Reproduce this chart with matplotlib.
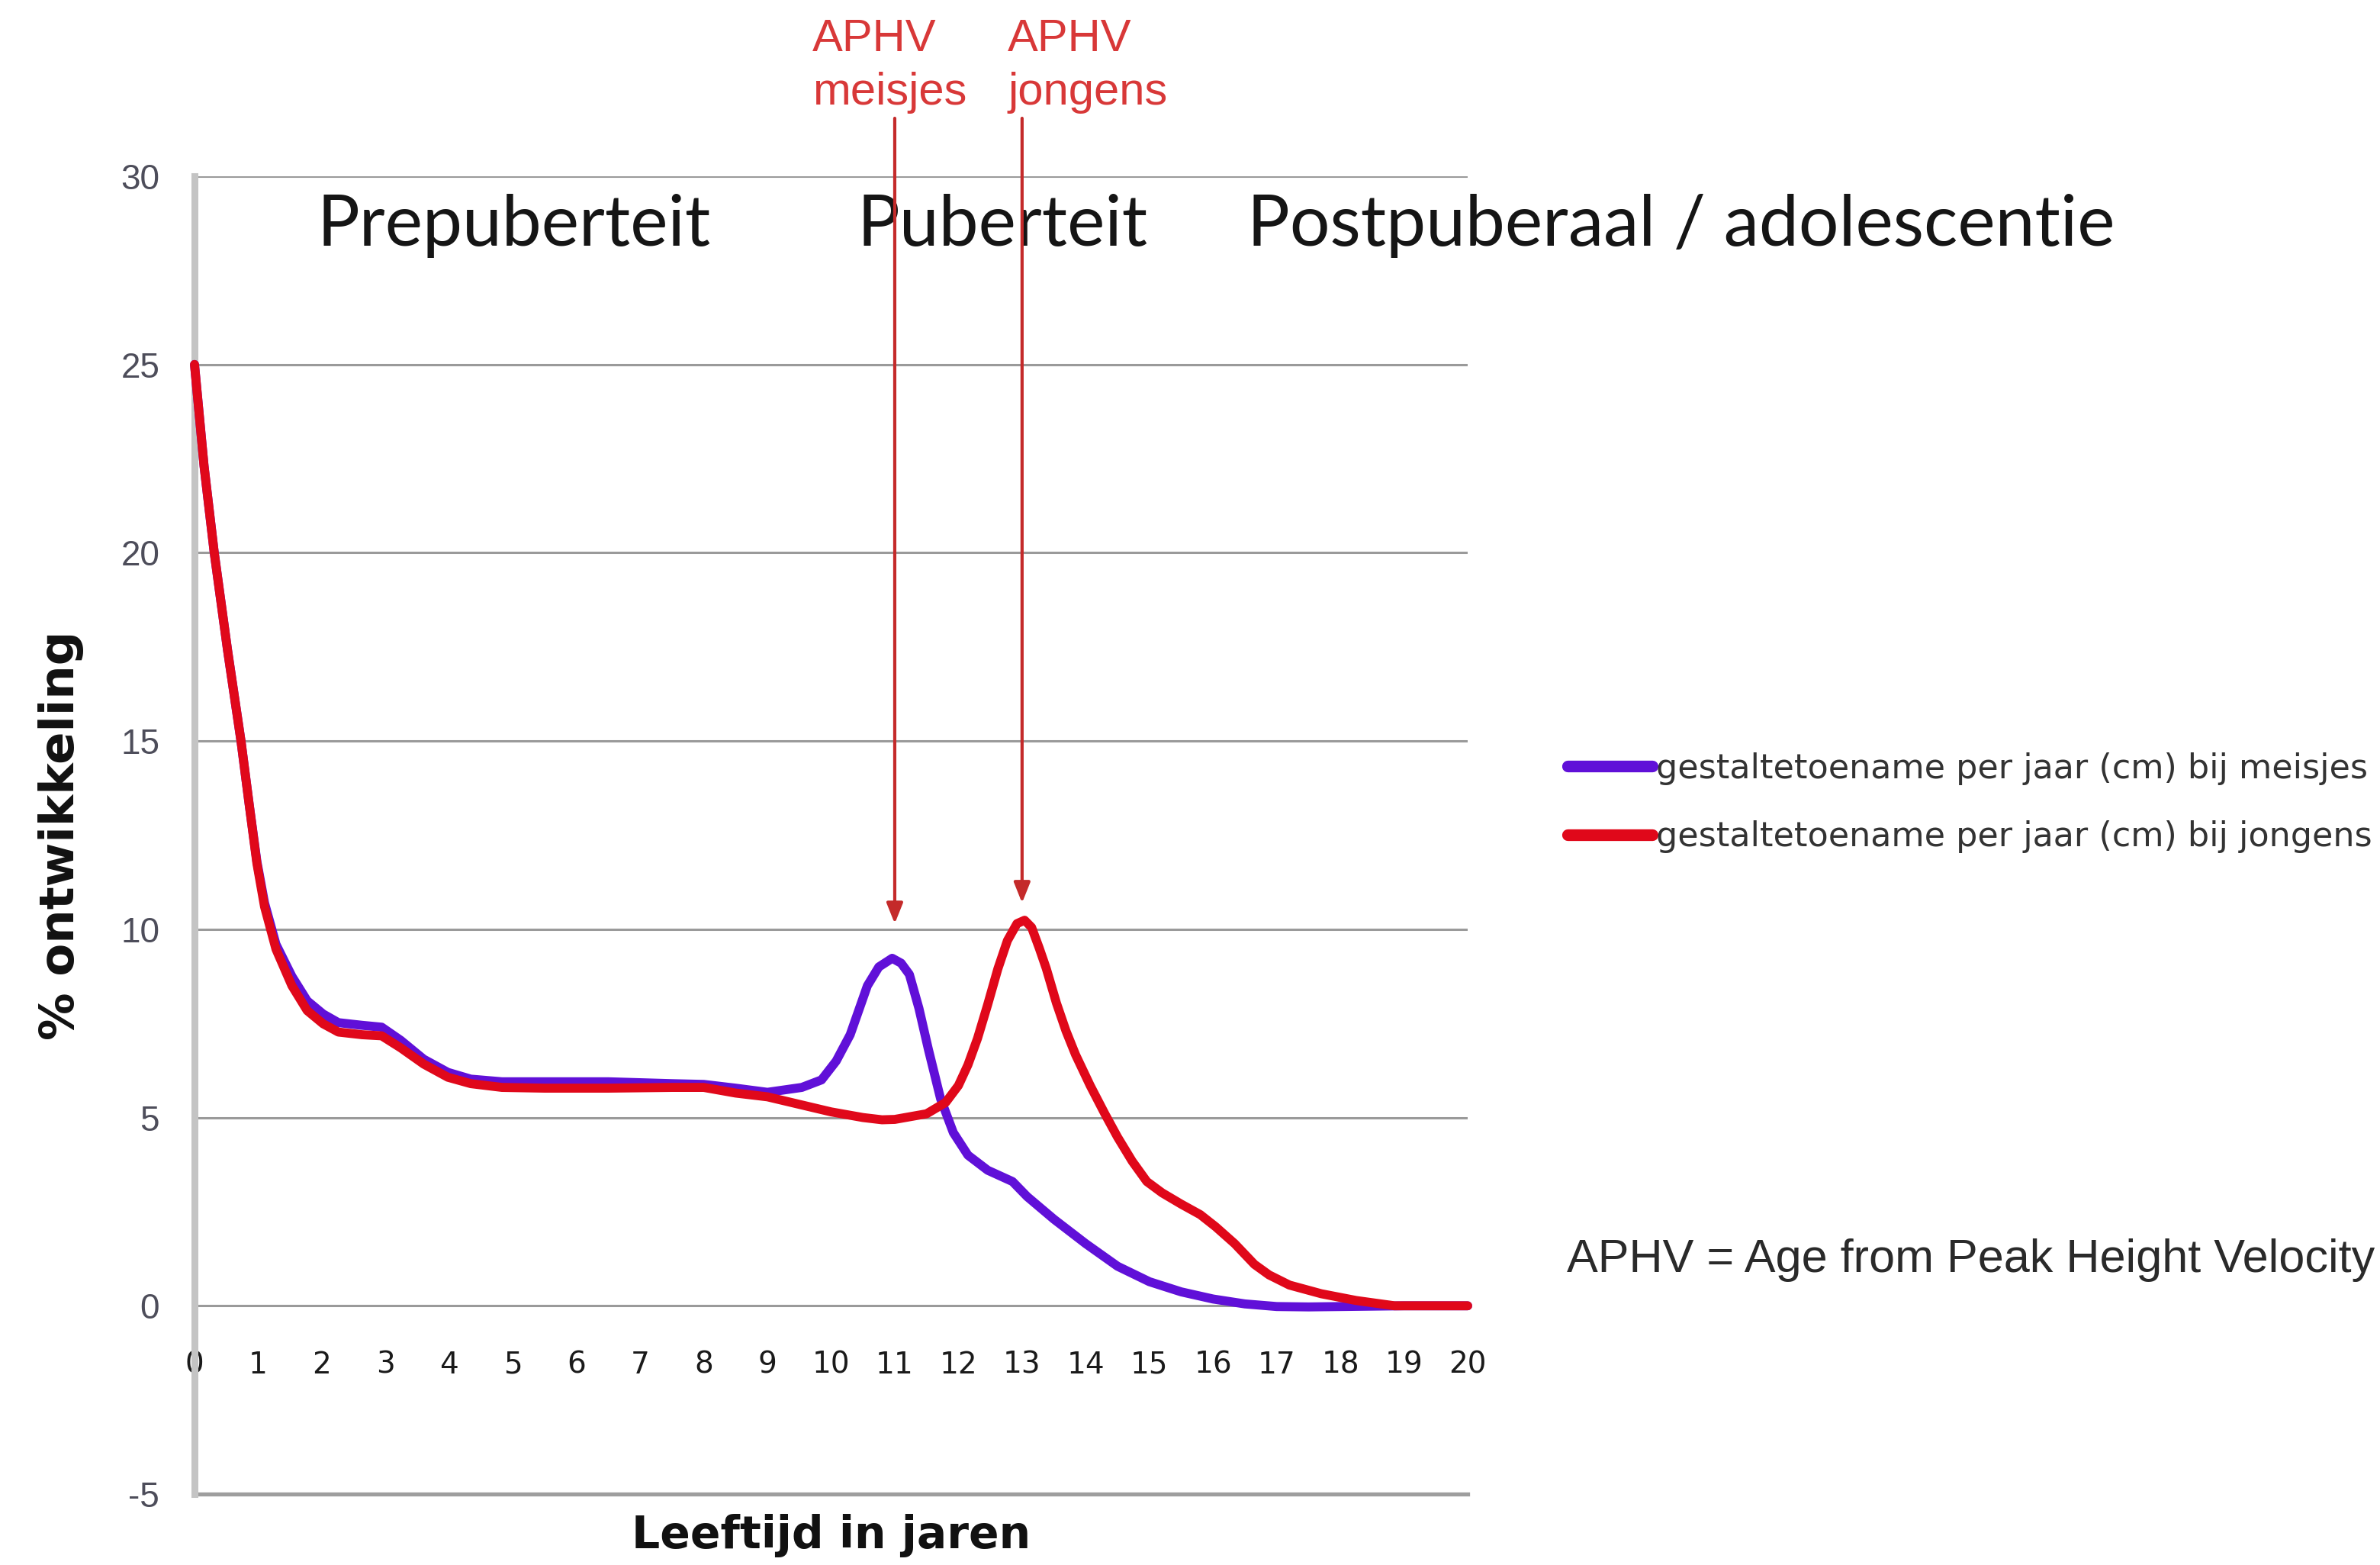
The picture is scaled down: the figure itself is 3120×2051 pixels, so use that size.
import matplotlib
matplotlib.use("Agg")
import matplotlib.pyplot as plt

plt.rcParams["axes.unicode_minus"] = False

# ---------------- data ----------------
ages_girls = [0, 0.15, 0.31, 0.52, 0.73, 0.86, 0.98, 1.1, 1.28, 1.53, 1.77, 2.02, 2.26,
              2.63, 2.94, 3.24, 3.6, 3.98, 4.34, 4.83, 5.5, 6.5, 7.5, 8.0, 8.5, 9.0, 9.54,
              9.85, 10.08, 10.3, 10.57, 10.75, 10.96, 11.1, 11.23, 11.38, 11.53, 11.72,
              11.92, 12.15, 12.46, 12.85, 13.08, 13.5, 14.0, 14.5, 15.0, 15.5, 16.0, 16.5,
              17.0, 17.5, 18.0, 19.0, 20.0]
girls = [25, 22.3, 20.0, 17.4, 15.0, 13.3, 11.8, 10.7, 9.6, 8.75, 8.1, 7.75, 7.52,
         7.45, 7.4, 7.05, 6.55, 6.2, 6.02, 5.95, 5.95, 5.95, 5.9, 5.88, 5.78, 5.67, 5.8,
         6.0, 6.5, 7.2, 8.5, 9.0, 9.23, 9.1, 8.8, 7.9, 6.8, 5.5, 4.6, 4.0, 3.6, 3.3, 2.9,
         2.3, 1.65, 1.05, 0.64, 0.37, 0.18, 0.05, -0.02, -0.03, -0.02, 0.0, 0.0]

ages_boys = [0, 0.15, 0.31, 0.52, 0.73, 0.86, 0.98, 1.1, 1.28, 1.53, 1.77, 2.02, 2.26,
             2.63, 2.94, 3.24, 3.6, 3.98, 4.34, 4.83, 5.5, 6.5, 7.5, 8.0, 8.5, 9.0, 9.5,
             10.0, 10.5, 10.8, 11.0, 11.5, 11.8, 12.0, 12.15, 12.3, 12.46, 12.62, 12.77,
             12.92, 13.04, 13.15, 13.27, 13.38, 13.54, 13.69, 13.84, 14.07, 14.3, 14.5,
             14.73, 14.96, 15.2, 15.5, 15.8, 16.04, 16.34, 16.65, 16.88, 17.2, 17.7,
             18.25, 18.85, 20.0]
boys = [25, 22.3, 20.0, 17.4, 15.0, 13.3, 11.75, 10.6, 9.47, 8.5, 7.84, 7.49, 7.27,
        7.2, 7.17, 6.85, 6.42, 6.07, 5.9, 5.8, 5.78, 5.78, 5.8, 5.8, 5.65, 5.55, 5.35,
        5.15, 5.0, 4.94, 4.95, 5.1, 5.4, 5.85, 6.4, 7.1, 8.0, 8.95, 9.7, 10.15, 10.24,
        10.05, 9.5, 8.96, 8.04, 7.3, 6.67, 5.85, 5.1, 4.48, 3.84, 3.3, 3.0, 2.7, 2.42,
        2.1, 1.65, 1.1, 0.82, 0.55, 0.32, 0.14, 0.0, 0.0]

x_ticks = list(range(0, 21))
y_ticks = [-5, 0, 5, 10, 15, 20, 25, 30]

label_girls = "gestaltetoename per jaar (cm) bij meisjes"
label_boys = "gestaltetoename per jaar (cm) bij jongens"
phase_labels = ["Prepuberteit", "Puberteit", "Postpuberaal / adolescentie"]
aphv_ages = [11, 13]
aphv_tips = [10.15, 10.7]

# ---------------- figure ----------------
W, H = 3120, 2051
fig = plt.figure(figsize=(W / 100, H / 100), dpi=100)
fig.patch.set_facecolor("white")

L, R, T, B = 255, 1924, 231, 1958
ax = fig.add_axes([L / W, 1 - B / H, (R - L) / W, (B - T) / H])
ax.set_xlim(0, 20)
ax.set_ylim(-5, 30)

purple = "#6010d8"
red = "#e0081a"

ax.plot(ages_girls, girls, color=purple, lw=8.5, solid_joinstyle="round",
        solid_capstyle="round", label=label_girls, zorder=3, clip_on=False)
ax.plot(ages_boys, boys, color=red, lw=8.5, solid_joinstyle="round",
        solid_capstyle="round", label=label_boys, zorder=4, clip_on=False)

# axes styling
for s in ["top", "right"]:
    ax.spines[s].set_visible(False)
ax.spines["bottom"].set_position(("data", 0))
ax.spines["bottom"].set_visible(False)
ax.spines["left"].set_color("#c4c4c4")
ax.spines["left"].set_linewidth(6.5)
ax.spines["left"].set_zorder(2)

ax.set_yticks(y_ticks)
ax.set_xticks(x_ticks)
ax.grid(axis="y", color="#9a9a9a", lw=2.2, zorder=1)
ax.set_axisbelow(True)
ax.axhline(-5, color="#9e9e9e", lw=3.8, zorder=1, clip_on=False)

ax.tick_params(axis="x", length=0, pad=42, labelsize=28, labelcolor="#1a1a1a")
ax.tick_params(axis="y", length=0, pad=33, labelsize=33, labelcolor="#4d4d5a")
for t in ax.get_yticklabels():
    t.set_fontfamily(["Liberation Sans", "DejaVu Sans"])
for t in ax.get_xticklabels():
    t.set_fontfamily(["DejaVu Sans"])

ax.set_xlabel("Leeftijd in jaren", fontsize=42, fontweight="bold",
              family=["DejaVu Sans"], color="#111111")
ax.xaxis.set_label_coords(0.5, -0.015)
ax.set_ylabel("% ontwikkeling", fontsize=45, fontweight="bold",
              family=["DejaVu Sans"], color="#111111")
ax.yaxis.set_label_coords(-0.087, 0.5)

# phase labels
phase_x = [416, 1124, 1635]
for txt, px in zip(phase_labels, phase_x):
    ax.text(px / W, 1 - 322 / H, txt, transform=fig.transFigure, ha="left",
            va="baseline", fontsize=67, family=["Lato", "DejaVu Sans"],
            color="#151515", clip_on=False, zorder=3)

# APHV labels
aphv_red = "#d83838"
for px, word in zip([1065, 1321], ["meisjes", "jongens"]):
    ax.text(px / W, 1 - 67 / H, "APHV", transform=fig.transFigure, ha="left",
            va="baseline", fontsize=43, family=["Liberation Sans", "DejaVu Sans"],
            color=aphv_red, clip_on=False)
    ax.text(px / W, 1 - 137 / H, word, transform=fig.transFigure, ha="left",
            va="baseline", fontsize=43, family=["Liberation Sans", "DejaVu Sans"],
            color=aphv_red, clip_on=False)

# arrows
top_val = 30 + (T - 155) / ((B - T) / 35)
for a, tip in zip(aphv_ages, aphv_tips):
    ax.annotate("", xy=(a, tip), xytext=(a, top_val), xycoords="data",
                annotation_clip=False, zorder=6,
                arrowprops=dict(arrowstyle="-|>,head_length=0.45,head_width=0.18",
                                color="#c42a2a", lw=3, mutation_scale=36,
                                shrinkA=0, shrinkB=0))

# legend
leg = ax.legend(loc="center left", bbox_to_anchor=(2055 / W, 1 - 1052 / H),
                bbox_transform=fig.transFigure, frameon=False, borderpad=0,
                borderaxespad=0, handlelength=2.5, handletextpad=0.1,
                labelspacing=1.05, prop={"family": ["DejaVu Sans"], "size": 32})
for t in leg.get_texts():
    t.set_color("#333333")
for h in leg.legend_handles:
    h.set_linewidth(11)
    h.set_solid_capstyle("round")

# note
ax.text(2054 / W, 1 - 1667 / H, "APHV = Age from Peak Height Velocity",
        transform=fig.transFigure, ha="left", va="baseline", fontsize=44,
        family=["Liberation Sans", "DejaVu Sans"], color="#2a2a2a", clip_on=False)

fig.savefig("out.png", dpi=100, facecolor="white")
